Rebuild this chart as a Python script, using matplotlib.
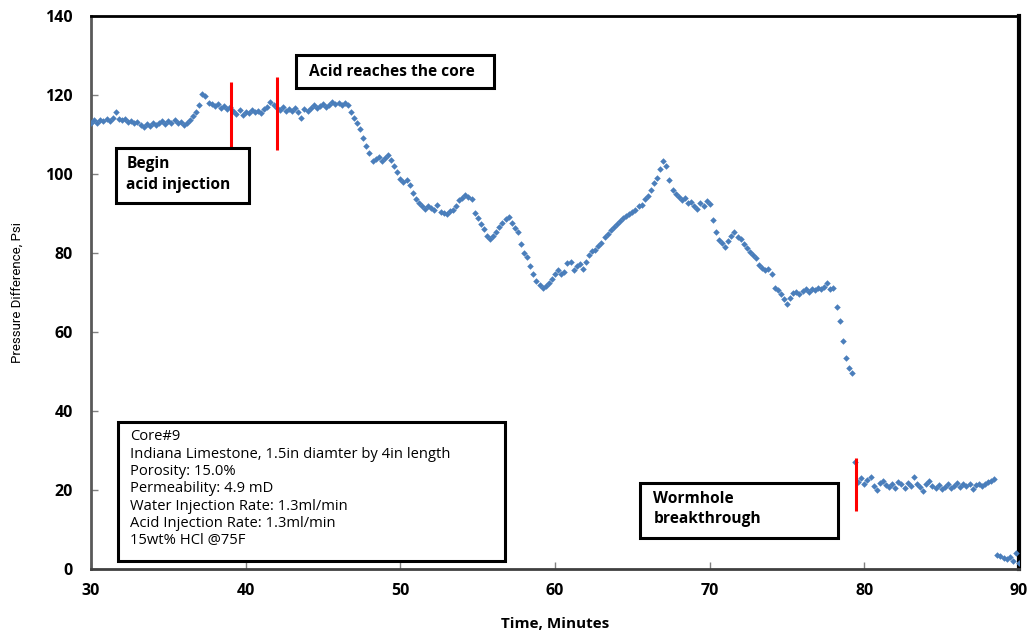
import numpy as np
import matplotlib
matplotlib.use("Agg")
import matplotlib.pyplot as plt
from matplotlib.patches import Rectangle

# pressure readings, sampled every 0.2 min (rows of 10 = 2 min)
main_start = 30.0
main_dp = [
    113.0, 113.6, 112.8, 113.8, 113.4, 114.0, 113.5, 114.2, 115.6, 113.9,
    113.6, 114.0, 113.2, 113.5, 112.8, 113.2, 112.4, 111.9, 112.6, 112.2,
    112.9, 112.4, 113.0, 113.3, 112.6, 113.4, 112.8, 113.6, 112.9, 113.2,
    112.4, 113.0, 113.6, 114.8, 115.8, 117.5, 120.3, 119.8, 118.0, 117.6,
    117.2, 117.8, 116.8, 117.2, 116.5, 116.9, 116.0, 115.3, 116.2, 115.0,
    115.8, 115.4, 116.2, 115.6, 116.0, 115.5, 116.4, 117.0, 118.3, 117.4,
    116.8, 116.2, 116.9, 115.9, 116.5, 116.0, 116.6, 115.8, 114.3, 116.4,
    116.0, 116.8, 117.4, 116.6, 117.2, 117.8, 116.9, 117.5, 118.2, 117.6,
    117.9, 117.4, 118.0, 117.5, 115.8, 114.2, 113.0, 111.4, 109.2, 107.0,
    105.4, 103.2, 103.8, 104.2, 103.4, 104.0, 104.8, 103.6, 102.0, 100.4,
    98.8, 98.0, 98.6, 97.2, 95.2, 93.6, 92.6, 92.0, 91.2, 92.0,
    91.4, 90.8, 92.2, 90.4, 90.2, 90.0, 90.6, 91.0, 92.0, 93.4,
    94.0, 94.8, 94.2, 93.6, 90.2, 88.8, 87.4, 86.0, 84.4, 83.6,
    84.4, 85.4, 86.6, 87.6, 88.6, 89.0, 87.6, 86.4, 85.2, 82.4,
    80.0, 79.0, 76.8, 74.8, 73.0, 71.8, 71.2, 71.6, 72.4, 73.4,
    74.6, 75.6, 74.8, 75.2, 77.4, 77.8, 75.8, 76.6, 77.2, 76.0,
    77.8, 79.6, 80.4, 80.8, 81.8, 82.6, 84.0, 84.8, 85.8, 86.6,
    87.4, 88.2, 88.8, 89.4, 90.0, 90.4, 90.8, 91.8, 92.2, 93.6,
    94.4, 96.0, 97.6, 99.0, 101.2, 103.2, 102.0, 98.4, 96.0, 95.0,
    94.2, 93.4, 93.8, 92.6, 93.0, 92.0, 91.2, 92.6, 91.8, 93.2,
    92.4, 88.4, 85.2, 83.4, 82.6, 81.6, 83.0, 84.2, 85.2, 84.0,
    83.6, 82.4, 81.2, 80.2, 79.4, 78.8, 77.0, 76.2, 75.6, 76.0,
    74.6, 71.2, 70.6, 69.6, 68.4, 67.2, 68.6, 69.8, 70.2, 69.6,
    70.4, 70.8, 70.2, 71.0, 70.6, 71.2, 70.8, 71.4, 72.4, 71.0,
    71.2, 66.4, 62.8, 57.6, 53.4, 51.0, 49.6,
]

# after wormhole breakthrough
tail_start = 79.4
tail_dp = [
    27.2, 22.0, 23.0, 21.4, 22.6, 23.4, 21.0, 20.0, 21.8, 22.4,
    21.2, 20.8, 21.6, 20.4, 22.0, 21.4, 20.6, 21.8, 21.0, 23.4,
    21.6, 20.8, 19.8, 21.4, 22.2, 21.0, 20.6, 21.2, 20.2, 20.8,
    21.6, 20.4, 21.0, 21.8, 20.8, 21.4, 21.0, 21.6, 20.2, 21.2,
    21.4, 21.0, 21.6, 22.0, 22.4, 22.8,
]

end_start = 88.6
end_dp = [3.6, 3.2, 2.8, 2.4, 3.0, 2.0, 4.0, 1.6]

dt = 0.2

# event markers (time, low, high)
event_t = [39.05, 42.05, 79.45]
event_lo = [106.0, 106.0, 14.8]
event_hi = [123.3, 124.5, 28.2]

info_lines = [
    "Core#9",
    "Indiana Limestone, 1.5in diamter by 4in length",
    "Porosity: 15.0%",
    "Permeability: 4.9 mD",
    "Water Injection Rate: 1.3ml/min",
    "Acid Injection Rate: 1.3ml/min",
    "15wt% HCl @75F",
]

plt.rcParams['font.family'] = ['Open Sans', 'DejaVu Sans']


def times(start, vals):
    return start + dt * np.arange(len(vals))


fig = plt.figure(figsize=(10.31, 6.31), dpi=100)
ax = fig.add_axes([0.0883, 0.0983, 0.9001, 0.8763])

blue = '#4A7EBB'
for start, vals in [(main_start, main_dp), (tail_start, tail_dp), (end_start, end_dp)]:
    ax.scatter(times(start, vals), vals, marker='D', s=11, color=blue,
               linewidths=0, zorder=3)

ax.vlines(event_t, event_lo, event_hi, colors='#FF0000', linewidth=2.2, zorder=4)

ax.set_xlim(30, 90)
ax.set_ylim(0, 140)
ax.set_xticks(np.arange(30, 91, 10))
ax.set_yticks(np.arange(0, 141, 20))

ax.tick_params(direction='in', length=5, width=1, color='#808080')
ax.tick_params(axis='y', pad=13)
ax.tick_params(axis='x', pad=10)
for lab in ax.get_xticklabels() + ax.get_yticklabels():
    lab.set_fontweight('bold')
    lab.set_fontsize(11.5)

ax.spines['left'].set_color('#595959')
ax.spines['left'].set_linewidth(2)
ax.spines['bottom'].set_color('#404040')
ax.spines['bottom'].set_linewidth(2)
ax.spines['top'].set_color('black')
ax.spines['top'].set_linewidth(2)
ax.spines['right'].set_color('black')
ax.spines['right'].set_linewidth(3)

ax.set_xlabel('Time, Minutes', fontsize=11, fontweight='bold', labelpad=13)
ax.set_ylabel('Pressure Difference, Psi', fontsize=9.5,
              family=['Liberation Sans Narrow', 'Roboto', 'DejaVu Sans'],
              labelpad=15)


def box(x0, y0, x1, y1):
    ax.add_patch(Rectangle((x0, y0), x1 - x0, y1 - y0, transform=ax.transAxes,
                           facecolor='white', edgecolor='black', linewidth=2.2,
                           zorder=5))


# annotation boxes
box(0.0269, 0.662, 0.1703, 0.761)
ax.text(0.038, 0.733, 'Begin', transform=ax.transAxes, fontsize=11.2,
        fontweight='bold', va='center', zorder=6)
ax.text(0.038, 0.695, 'acid injection', transform=ax.transAxes, fontsize=11.2,
        fontweight='bold', va='center', zorder=6)

box(0.2209, 0.8698, 0.4343, 0.9295)
ax.text(0.235, 0.899, 'Acid reaches the core', transform=ax.transAxes,
        fontsize=11.2, fontweight='bold', va='center', zorder=6)

box(0.5916, 0.0561, 0.805, 0.1555)
ax.text(0.606, 0.1265, 'Wormhole', transform=ax.transAxes, fontsize=11.2,
        fontweight='bold', va='center', zorder=6)
ax.text(0.606, 0.0905, 'breakthrough', transform=ax.transAxes, fontsize=11.2,
        fontweight='bold', va='center', zorder=6)

box(0.0291, 0.0145, 0.4461, 0.2658)
for i, line in enumerate(info_lines):
    ax.text(0.042, 0.2388 - i * 0.0313, line, transform=ax.transAxes,
            fontsize=10.6, va='center', zorder=6)

fig.savefig('out.png', dpi=100)
